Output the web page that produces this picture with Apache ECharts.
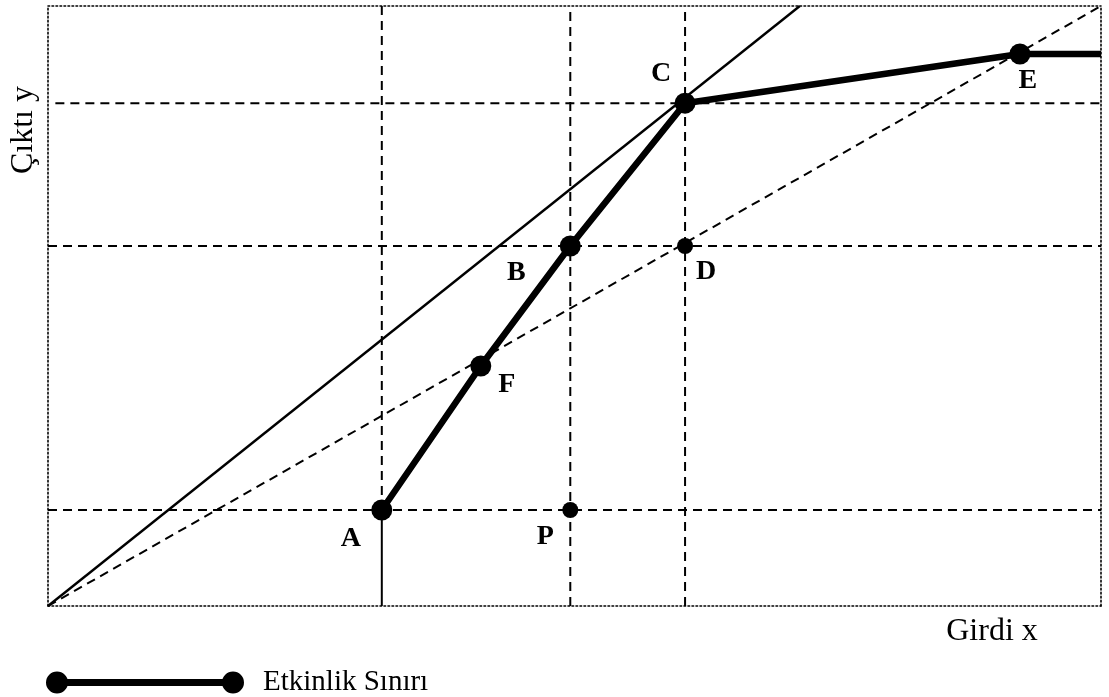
<!DOCTYPE html>
<html>
<head>
<meta charset="utf-8">
<script src="https://cdn.jsdelivr.net/npm/echarts@6/dist/echarts.min.js"></script>
<style>html,body{margin:0;padding:0;background:#fff}#c{width:1109px;height:697px}</style>
</head>
<body>
<div id="c"></div>
<script>
// ---- data ----
const frontierNames = ['A', 'F', 'B', 'C', 'E'];
const frontierX = [31.7, 41.1, 49.6, 60.5, 92.3];
const frontierY = [16, 40, 60, 83.8, 92];
const frontierEndX = 100;            // frontier continues flat to the right edge
const refNames = ['P', 'D'];
const refX = [49.6, 60.5];
const refY = [16, 60];
const rayEnd = [71.4, 100];          // solid ray from origin through C
const diagEnd = [100, 100];          // dashed ray from origin through D, E
const hGuideY = [16, 60, 83.8];      // dashed horizontal guides
const vGuideX = [31.7, 49.6, 60.5];  // dashed vertical guides
const xName = 'Girdi x';
const yName = 'Çıktı y';
const legendName = 'Etkinlik Sınırı';

// ---- styling helpers ----
const FONT = 'Liberation Serif';
const labelOffset = {A: [-31, 29], F: [26, 19], B: [-54, 27], C: [-24, -29], E: [8, 27], P: [-25, 27], D: [21, 26]};
const dashed = {color: '#000', width: 2, type: [9, 6]};

const chart = echarts.init(document.getElementById('c'), null, {renderer: 'canvas'});

function ptLabel(name) {
  return {
    show: true, position: 'inside', offset: labelOffset[name] || [0, 0],
    formatter: name, fontFamily: FONT, fontWeight: 'bold', fontSize: 28, color: '#000', opacity: 1
  };
}

const series = [];
// horizontal guides
hGuideY.forEach((y, i) => {
  const x0 = i === 2 ? 0.7 : 0;
  const x1 = i === 2 ? 100.8 : 100;
  series.push({type: 'line', data: [[x0, y], [x1, y]], symbol: 'none', lineStyle: dashed, clip: false, silent: true, z: 1});
});
// vertical guides
vGuideX.forEach((x, i) => {
  const y0 = i === 0 ? frontierY[0] : 0;
  series.push({type: 'line', data: [[x, y0], [x, 100]], symbol: 'none', lineStyle: dashed, silent: true, z: 1});
});
// solid drop from A to axis
series.push({type: 'line', data: [[frontierX[0], 0], [frontierX[0], frontierY[0]]], symbol: 'none', lineStyle: {color: '#000', width: 2}, silent: true, z: 2});
// solid ray through C
series.push({type: 'line', data: [[0, 0], rayEnd], symbol: 'none', lineStyle: {color: '#000', width: 2.4}, silent: true, z: 2});
// dashed ray
series.push({type: 'line', data: [[0, 0], diagEnd], symbol: 'none', lineStyle: dashed, silent: true, z: 2});
// reference points P, D
series.push({
  type: 'scatter', symbol: 'circle', symbolSize: 16, itemStyle: {color: '#000', opacity: 1}, z: 4,
  data: refNames.map((n, i) => ({value: [refX[i], refY[i]], label: ptLabel(n)}))
});
// efficiency frontier
const fData = frontierNames.map((n, i) => ({value: [frontierX[i], frontierY[i]], label: ptLabel(n)}));
fData.push({value: [frontierEndX, frontierY[frontierY.length - 1]], symbol: 'none'});
series.push({
  name: legendName, type: 'line', data: fData, symbol: 'circle', symbolSize: 21, showSymbol: true,
  itemStyle: {color: '#000', opacity: 1}, lineStyle: {color: '#000', width: 6.5}, z: 5
});

const dotted = {show: true, onZero: false, lineStyle: {color: '#000', width: 1.6, type: [1.6, 2.4]}};
const hiddenBits = {axisTick: {show: false}, axisLabel: {show: false}, splitLine: {show: false}};

chart.setOption({
  animation: false,
  backgroundColor: '#fff',
  grid: {left: 48, right: 8, top: 6, bottom: 91, containLabel: false},
  xAxis: [
    Object.assign({type: 'value', min: 0, max: 100, position: 'bottom', axisLine: dotted}, hiddenBits),
    Object.assign({type: 'value', min: 0, max: 100, position: 'top', axisLine: dotted}, hiddenBits)
  ],
  yAxis: [
    Object.assign({type: 'value', min: 0, max: 100, position: 'left', axisLine: dotted}, hiddenBits),
    Object.assign({type: 'value', min: 0, max: 100, position: 'right', axisLine: dotted}, hiddenBits)
  ],
  legend: {
    data: [legendName], left: 41, top: 663, orient: 'horizontal',
    itemWidth: 198, itemHeight: 22,
    icon: 'path://M0,11 A11,11 0 1,1 22,11 A11,11 0 1,1 0,11 Z M18,7.5 L180,7.5 L180,14.5 L18,14.5 Z M176,11 A11,11 0 1,1 198,11 A11,11 0 1,1 176,11 Z',
    itemStyle: {color: '#000'},
    textStyle: {fontFamily: FONT, fontSize: 29, color: '#000', padding: [0, 0, 0, 14]},
    selectedMode: false
  },
  graphic: [
    {type: 'text', x: 24, y: 130, rotation: Math.PI / 2,
     style: {text: yName, fontFamily: FONT, fontSize: 32, fill: '#000', align: 'center', verticalAlign: 'middle'}},
    {type: 'text', x: 992, y: 632,
     style: {text: xName, fontFamily: FONT, fontSize: 32, fill: '#000', align: 'center', verticalAlign: 'middle'}}
  ],
  series: series
});
</script>
</body>
</html>
